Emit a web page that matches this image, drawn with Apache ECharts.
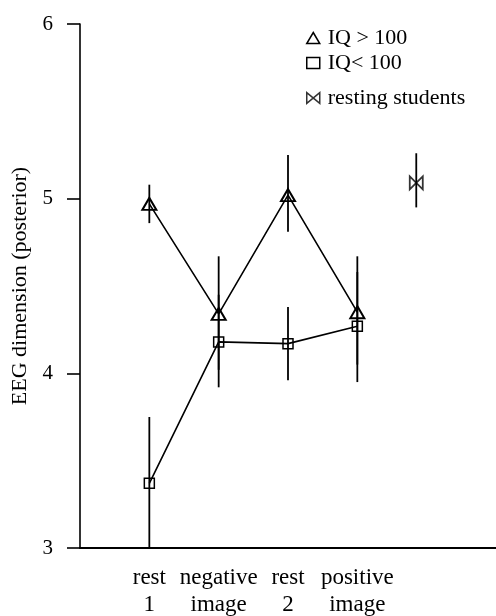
<!DOCTYPE html>
<html>
<head>
<meta charset="utf-8">
<script src="https://cdn.jsdelivr.net/npm/echarts@6/dist/echarts.min.js"></script>
<style>html,body{margin:0;padding:0;background:#fff;}#c{width:496px;height:616px;}</style>
</head>
<body>
<div id="c"></div>
<script>
// ---- data ----
const categories = ['rest\n1', 'negative\nimage', 'rest\n2', 'positive\nimage'];
const catX = [1, 2, 3, 4];
const highIQ = [4.97, 4.34, 5.02, 4.35];
const highIQLow = [4.86, 4.02, 4.81, 4.05];
const highIQHigh = [5.08, 4.67, 5.25, 4.67];
const lowIQ = [3.37, 4.18, 4.17, 4.27];
const lowIQLow = [3.00, 3.92, 3.96, 3.95];
const lowIQHigh = [3.75, 4.45, 4.38, 4.58];
const restingX = [4.85];
const resting = [5.09];
const restingLow = [4.95];
const restingHigh = [5.26];
const yTicks = [3, 4, 5, 6];
const seriesNames = ['IQ > 100', 'IQ< 100', 'resting students'];

const FONT = 'Liberation Serif';
const bowtie = 'path://M0,0L12,10L12,0L0,10Z';

function errRender(params, api) {
  const x = api.value(0), lo = api.value(1), hi = api.value(2);
  const p1 = api.coord([x, lo]), p2 = api.coord([x, hi]);
  return {type: 'line', shape: {x1: p1[0], y1: p1[1], x2: p2[0], y2: p2[1]},
          style: {stroke: '#000', lineWidth: 1.8}};
}
const zip = (xs, ys) => xs.map((x, i) => [x, ys[i]]);
const zip3 = (xs, a, b) => xs.map((x, i) => [x, a[i], b[i]]);

const legendText = {color: '#000', fontFamily: FONT, fontSize: 22, lineHeight: 22, padding: [0, 0, 0, 3]};
const legendItem = {color: 'transparent', borderColor: '#000', borderWidth: 1.5};

const chart = echarts.init(document.getElementById('c'), null, {renderer: 'canvas'});
chart.setOption({
  animation: false,
  backgroundColor: '#fff',
  grid: {left: 80, right: 0, top: 24, bottom: 68, containLabel: false, outerBoundsMode: 'none'},
  xAxis: {
    type: 'value', min: 0, max: 6, interval: 1,
    axisLine: {show: true, lineStyle: {color: '#000', width: 2}},
    axisTick: {show: false},
    splitLine: {show: false},
    axisLabel: {
      color: '#000', fontFamily: FONT, fontSize: 23, lineHeight: 27, margin: 16,
      formatter: v => { const i = catX.indexOf(v); return i >= 0 ? categories[i] : ''; }
    }
  },
  yAxis: {
    type: 'value', min: 3, max: 6, interval: 1,
    name: 'EEG dimension (posterior)', nameLocation: 'middle', nameGap: 49,
    nameTextStyle: {color: '#000', fontFamily: FONT, fontSize: 22},
    axisLine: {show: true, lineStyle: {color: '#000', width: 1.6}},
    axisTick: {show: true, inside: false, length: 13, lineStyle: {color: '#000', width: 1.6}},
    splitLine: {show: false},
    axisLabel: {color: '#000', fontFamily: FONT, fontSize: 21, margin: 27,
      formatter: v => yTicks.indexOf(v) >= 0 ? String(v) : ''}
  },
  legend: [{
    data: [{name: seriesNames[0], icon: 'triangle'}, {name: seriesNames[1], icon: 'rect'}],
    orient: 'vertical', left: 306, top: 27, padding: 0, itemGap: 3,
    itemWidth: 13, itemHeight: 11,
    textStyle: legendText, itemStyle: legendItem
  }, {
    data: [{name: seriesNames[2], icon: bowtie}],
    orient: 'vertical', left: 306, top: 87, padding: 0,
    itemWidth: 13, itemHeight: 11,
    textStyle: legendText, itemStyle: legendItem
  }],
  series: [
    {type: 'custom', renderItem: errRender, data: zip3(catX, highIQLow, highIQHigh), encode: {x: 0, y: [1, 2]}, z: 3, silent: true},
    {type: 'custom', renderItem: errRender, data: zip3(catX, lowIQLow, lowIQHigh), encode: {x: 0, y: [1, 2]}, z: 3, silent: true},
    {type: 'custom', renderItem: errRender, data: zip3(restingX, restingLow, restingHigh), encode: {x: 0, y: [1, 2]}, z: 3, silent: true},
    {name: seriesNames[0], type: 'line', data: zip(catX, highIQ), symbol: 'triangle', symbolSize: [14, 12],
     lineStyle: {color: '#000', width: 1.6}, itemStyle: {color: 'transparent', borderColor: '#000', borderWidth: 2}, z: 4},
    {name: seriesNames[1], type: 'line', data: zip(catX, lowIQ), symbol: 'rect', symbolSize: [10, 10],
     lineStyle: {color: '#000', width: 1.6}, itemStyle: {color: 'transparent', borderColor: '#000', borderWidth: 1.5}, z: 4},
    {name: seriesNames[2], type: 'scatter', data: zip(restingX, resting), symbol: bowtie, symbolSize: [13, 13],
     itemStyle: {color: 'transparent', borderColor: '#000', borderWidth: 1.8}, z: 4}
  ]
});
</script>
</body>
</html>
